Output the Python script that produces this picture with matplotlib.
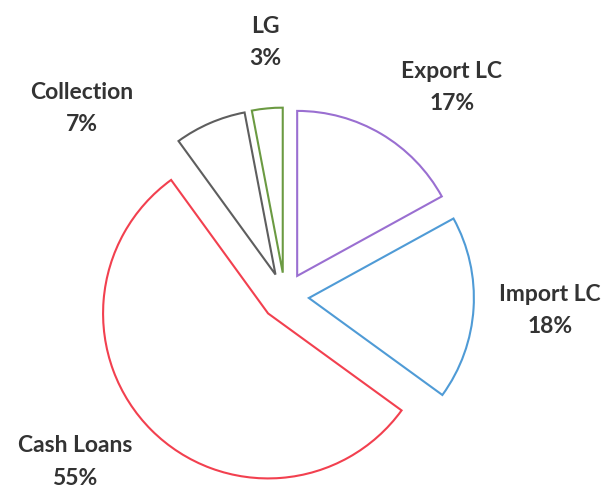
import matplotlib
matplotlib.use("Agg")
import matplotlib.pyplot as plt

categories = ["Export LC", "Import LC", "Cash Loans", "Collection", "LG"]
values = [17, 18, 55, 7, 3]
pct_labels = ["17%", "18%", "55%", "7%", "3%"]

colors = ["#9a6fd1", "#4f9bd6", "#f2404f", "#5e5e5e", "#6b9a42"]
explode = [0.145, 0.145, 0.145, 0.145, 0.145]
# label centres in pie-radius units (layout)
label_pos = [(1.012, 1.264), (1.606, -0.082), (-1.273, -1.003), (-1.230, 1.142), (-0.121, 1.542)]

W, H = 609, 493
fig = plt.figure(figsize=(W / 100, H / 100), dpi=100)
ax = fig.add_axes([0, 0, 1, 1])
ax.axis("off")

wedges, _ = ax.pie(values, explode=explode, startangle=90, counterclock=False,
                   radius=1.0, center=(0, 0),
                   wedgeprops=dict(facecolor="white", linewidth=1.5))
for w, c in zip(wedges, colors):
    w.set_edgecolor(c)

scale = 165.0
cx, cy = 285.0, 493 - 296.5
ax.set_xlim(-cx / scale, (W - cx) / scale)
ax.set_ylim(-cy / scale, (H - cy) / scale)
ax.set_aspect("auto")

for name, pct, (x, y) in zip(categories, pct_labels, label_pos):
    ax.text(x, y, f"{name}\n{pct}", ha="center", va="center", fontsize=16.5,
            fontweight="bold", family="Lato", color="#333333", linespacing=1.65)

fig.savefig("out.png", dpi=100, facecolor="white")
